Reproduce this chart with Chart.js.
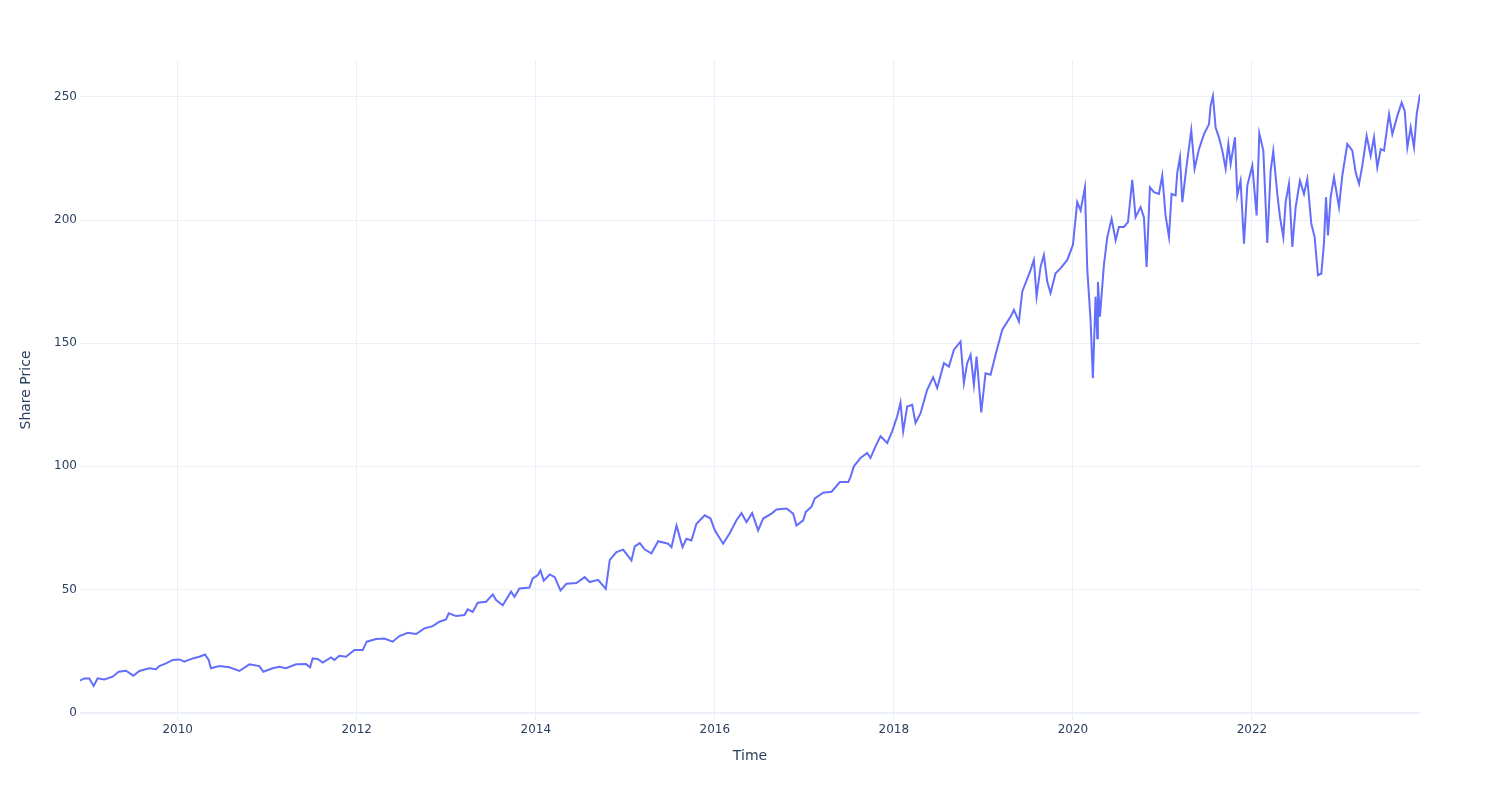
<!DOCTYPE html>
<html>
<head>
<meta charset="utf-8">
<script src="https://cdn.jsdelivr.net/npm/chart.js@4"></script>
<style>
  html, body { margin: 0; padding: 0; background: #fff; }
  #chart { display: block; }
</style>
</head>
<body>
<canvas id="chart" width="1500" height="800"></canvas>
<script>
// time in fractional years
const time = [
  2008.909, 2008.957, 2009.013, 2009.032, 2009.061, 2009.106, 2009.181, 2009.274, 2009.341, 2009.423,
  2009.505, 2009.572, 2009.683, 2009.758, 2009.795, 2009.870, 2009.944, 2010.019, 2010.074, 2010.168,
  2010.242, 2010.305, 2010.346, 2010.372, 2010.466, 2010.577, 2010.689, 2010.801, 2010.912, 2010.957,
  2011.061, 2011.136, 2011.210, 2011.322, 2011.434, 2011.479, 2011.508, 2011.564, 2011.620, 2011.713,
  2011.750, 2011.806, 2011.881, 2011.974, 2012.067, 2012.112, 2012.216, 2012.309, 2012.402, 2012.477,
  2012.570, 2012.663, 2012.756, 2012.849, 2012.924, 2012.998, 2013.028, 2013.110, 2013.203, 2013.240,
  2013.296, 2013.352, 2013.445, 2013.520, 2013.557, 2013.631, 2013.724, 2013.762, 2013.818, 2013.929,
  2013.966, 2014.022, 2014.052, 2014.089, 2014.156, 2014.212, 2014.276, 2014.343, 2014.454, 2014.547,
  2014.603, 2014.696, 2014.782, 2014.827, 2014.901, 2014.976, 2015.069, 2015.106, 2015.162, 2015.218,
  2015.292, 2015.367, 2015.479, 2015.516, 2015.572, 2015.639, 2015.683, 2015.739, 2015.795, 2015.888,
  2015.952, 2016.000, 2016.093, 2016.168, 2016.242, 2016.298, 2016.354, 2016.417, 2016.484, 2016.540,
  2016.633, 2016.689, 2016.801, 2016.875, 2016.912, 2016.987, 2017.017, 2017.080, 2017.117, 2017.210,
  2017.304, 2017.397, 2017.490, 2017.516, 2017.553, 2017.628, 2017.702, 2017.739, 2017.795, 2017.851,
  2017.926, 2017.981, 2018.037, 2018.074, 2018.104, 2018.149, 2018.205, 2018.242, 2018.298, 2018.372,
  2018.439, 2018.484, 2018.559, 2018.615, 2018.670, 2018.745, 2018.782, 2018.819, 2018.857, 2018.894,
  2018.924, 2018.976, 2019.024, 2019.080, 2019.136, 2019.210, 2019.304, 2019.341, 2019.397, 2019.434,
  2019.527, 2019.564, 2019.594, 2019.639, 2019.676, 2019.713, 2019.750, 2019.806, 2019.862, 2019.937,
  2020.000, 2020.048, 2020.086, 2020.134, 2020.160, 2020.197, 2020.223, 2020.253, 2020.272, 2020.279,
  2020.302, 2020.346, 2020.384, 2020.432, 2020.477, 2020.514, 2020.570, 2020.615, 2020.663, 2020.700,
  2020.756, 2020.793, 2020.823, 2020.860, 2020.905, 2020.961, 2020.998, 2021.035, 2021.073, 2021.102,
  2021.147, 2021.166, 2021.196, 2021.222, 2021.270, 2021.322, 2021.359, 2021.408, 2021.464, 2021.520,
  2021.538, 2021.564, 2021.594, 2021.631, 2021.669, 2021.706, 2021.736, 2021.762, 2021.810, 2021.836,
  2021.873, 2021.911, 2021.948, 2022.004, 2022.052, 2022.082, 2022.127, 2022.171, 2022.209, 2022.238,
  2022.283, 2022.313, 2022.350, 2022.376, 2022.413, 2022.451, 2022.488, 2022.536, 2022.581, 2022.618,
  2022.663, 2022.700, 2022.737, 2022.775, 2022.804, 2022.827, 2022.849, 2022.879, 2022.916, 2022.972,
  2023.009, 2023.065, 2023.121, 2023.158, 2023.196, 2023.233, 2023.281, 2023.326, 2023.363, 2023.400,
  2023.438, 2023.475, 2023.531, 2023.568, 2023.624, 2023.672, 2023.706, 2023.736, 2023.773, 2023.810,
  2023.840, 2023.877
];

const price = [
  13.0, 13.9, 13.9, 12.6, 10.8, 13.9, 13.5, 14.6, 16.6, 17.0,
  15.0, 16.9, 18.0, 17.6, 18.9, 20.0, 21.4, 21.6, 20.7, 22.0,
  22.7, 23.6, 21.4, 18.0, 18.9, 18.4, 16.9, 19.6, 18.9, 16.6,
  18.0, 18.6, 18.0, 19.6, 19.7, 18.4, 22.0, 21.8, 20.3, 22.4,
  21.4, 23.1, 22.7, 25.4, 25.4, 28.8, 29.9, 30.1, 28.8, 31.1,
  32.4, 31.9, 34.2, 35.1, 36.9, 37.8, 40.3, 39.2, 39.6, 41.9,
  40.9, 44.6, 45.0, 48.0, 45.7, 43.6, 49.1, 47.0, 50.4, 50.8,
  54.5, 55.8, 57.7, 53.6, 56.1, 55.0, 49.6, 52.3, 52.6, 55.0,
  53.0, 53.9, 50.2, 62.0, 65.2, 66.2, 61.8, 67.5, 68.8, 66.2,
  64.7, 69.6, 68.6, 67.2, 76.0, 67.2, 70.6, 69.9, 76.7, 80.1,
  78.8, 74.0, 68.6, 72.9, 78.1, 81.0, 77.4, 81.0, 74.0, 78.8,
  80.8, 82.5, 82.9, 80.8, 76.0, 78.1, 81.5, 83.6, 87.0, 89.3,
  89.7, 93.6, 93.6, 95.7, 100.0, 103.4, 105.4, 103.4, 108.1, 112.2,
  109.5, 114.2, 120.3, 125.9, 114.2, 124.3, 125.0, 117.6, 121.6, 131.1,
  136.2, 131.8, 141.9, 140.5, 147.3, 150.7, 133.8, 141.9, 145.3, 133.1,
  144.6, 121.9, 137.8, 137.2, 145.3, 155.4, 160.8, 163.5, 158.8, 170.9,
  179.7, 183.8, 168.9, 181.1, 185.8, 175.0, 170.3, 178.4, 180.4, 183.8,
  189.9, 207.3, 203.9, 213.3, 180.3, 159.4, 135.8, 168.9, 152.0, 174.9,
  160.8, 181.7, 193.1, 200.5, 191.8, 197.2, 197.2, 199.2, 216.3, 201.2,
  205.3, 201.2, 181.0, 213.3, 211.3, 210.6, 218.1, 201.9, 193.1, 210.6,
  210.0, 219.4, 225.5, 207.3, 222.1, 236.5, 220.8, 228.8, 234.9, 238.9,
  246.4, 250.4, 237.6, 233.6, 228.2, 220.8, 230.9, 222.8, 233.6, 210.0,
  216.0, 190.4, 214.0, 222.1, 201.9, 235.2, 228.2, 190.7, 220.1, 228.0,
  210.6, 201.2, 193.1, 207.3, 214.7, 189.1, 205.3, 216.0, 210.6, 216.7,
  198.5, 193.1, 177.6, 178.3, 190.4, 209.3, 193.8, 209.3, 217.4, 205.3,
  218.1, 230.9, 228.2, 219.4, 214.7, 222.1, 234.2, 226.1, 233.6, 221.4,
  228.8, 228.2, 243.0, 234.9, 242.3, 247.7, 244.3, 229.5, 237.6, 229.5,
  243.0, 251.1
];

const xTicks = [2010, 2012, 2014, 2016, 2018, 2020, 2022];
const yTicks = [0, 50, 100, 150, 200, 250];

const textColor = '#2a3f5f';
const gridColor = '#ebf0f8';
const fontFamily = '"DejaVu Sans", "Open Sans", Verdana, Arial, sans-serif';

const points = time.map((t, i) => ({ x: t, y: price[i] }));

const ctx = document.getElementById('chart').getContext('2d');
new Chart(ctx, {
    type: 'line',
    data: {
        datasets: [{
            label: 'Share Price',
            data: points,
            borderColor: '#636efa',
            borderWidth: 2,
            pointRadius: 0,
            tension: 0,
            fill: false
        }]
    },
    options: {
        responsive: false,
        animation: false,
        devicePixelRatio: 1,
        layout: {
            padding: { top: 60, right: 80, left: 0, bottom: 0 }
        },
        plugins: {
            legend: { display: false },
            tooltip: { enabled: false }
        },
        scales: {
            x: {
                type: 'linear',
                min: time[0],
                max: time[time.length - 1],
                afterBuildTicks: (scale) => {
                    scale.ticks = xTicks.map(v => ({ value: v }));
                },
                afterFit: (scale) => { scale.height = 80; },
                border: { display: false },
                grid: { color: gridColor, lineWidth: 1, drawTicks: false },
                ticks: {
                    color: textColor,
                    font: { family: fontFamily, size: 12 },
                    padding: 3,
                    maxRotation: 0,
                    autoSkip: false,
                    callback: (v) => String(v)
                },
                title: {
                    display: true,
                    text: 'Time',
                    color: textColor,
                    font: { family: fontFamily, size: 14 },
                    padding: { top: 0, bottom: 35 }
                }
            },
            y: {
                min: -3.0,
                max: 265,
                afterBuildTicks: (scale) => {
                    scale.ticks = yTicks.map(v => ({ value: v }));
                },
                afterFit: (scale) => { scale.width = 80; },
                border: { display: false },
                grid: {
                    color: gridColor,
                    lineWidth: (c) => (c.tick && c.tick.value === 0 ? 2 : 1),
                    drawTicks: false
                },
                ticks: {
                    color: textColor,
                    font: { family: fontFamily, size: 12 },
                    padding: 3,
                    callback: (v) => String(v)
                },
                title: {
                    display: true,
                    text: 'Share Price',
                    color: textColor,
                    font: { family: fontFamily, size: 14 },
                    padding: { top: 18, bottom: 0 }
                }
            }
        }
    }
});
</script>
</body>
</html>
